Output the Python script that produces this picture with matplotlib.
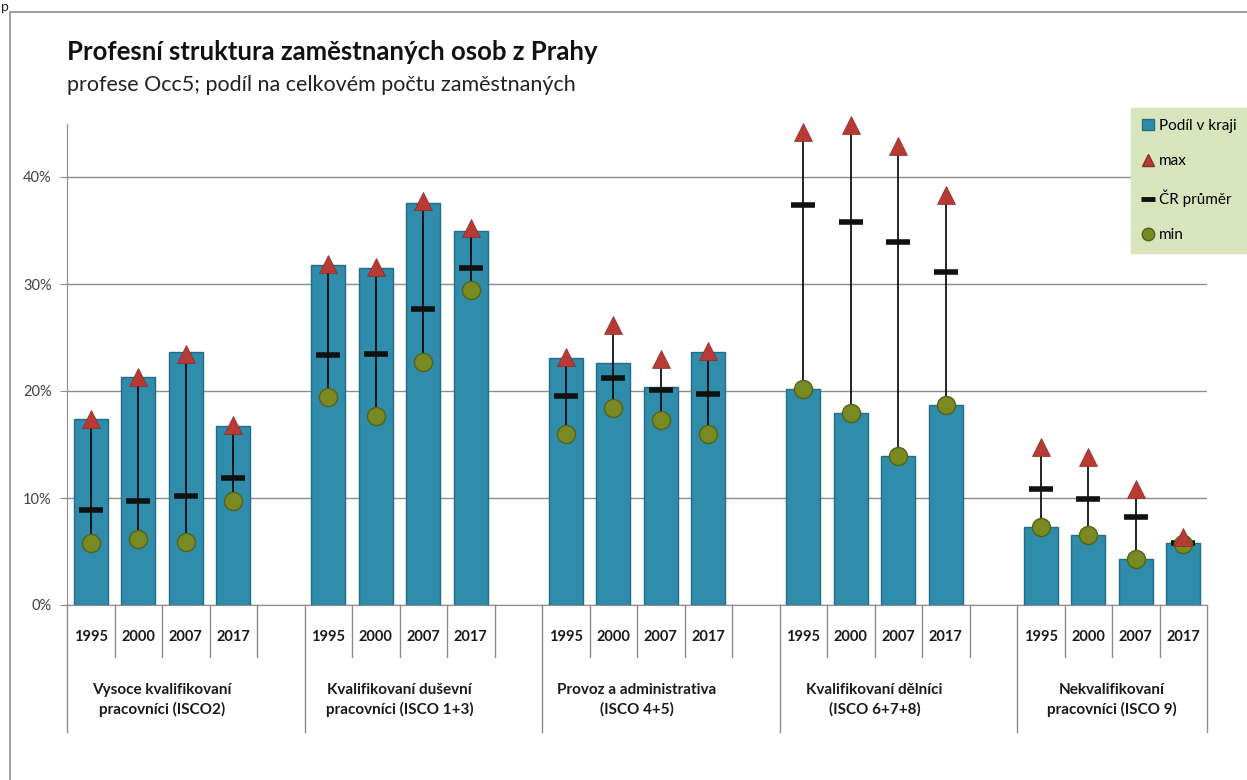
import numpy as np
import matplotlib.pyplot as plt
import matplotlib.transforms as mtransforms
from matplotlib.lines import Line2D
from matplotlib.patches import Patch, Rectangle
from matplotlib.ticker import PercentFormatter

plt.rcParams['font.family'] = ['Lato', 'DejaVu Sans']

years = ['1995', '2000', '2007', '2017']
groups = ['Vysoce kvalifikovaní\npracovníci (ISCO2)',
          'Kvalifikovaní duševní\npracovníci (ISCO 1+3)',
          'Provoz a administrativa\n(ISCO 4+5)',
          'Kvalifikovaní dělníci\n(ISCO 6+7+8)',
          'Nekvalifikovaní\npracovníci (ISCO 9)']

# podíl v kraji (Praha), %
podil = [[17.4, 21.3, 23.6, 16.7],
         [31.8, 31.5, 37.6, 35.0],
         [23.1, 22.6, 20.4, 23.6],
         [20.2, 17.9, 13.9, 18.7],
         [7.3, 6.5, 4.3, 5.8]]
# max mezi kraji
maxv = [[17.4, 21.3, 23.5, 16.8],
        [31.9, 31.6, 37.8, 35.2],
        [23.2, 26.2, 23.0, 23.7],
        [44.2, 44.9, 42.9, 38.3],
        [14.8, 13.8, 10.8, 6.4]]
# ČR průměr
prumer = [[8.9, 9.75, 10.2, 11.9],
          [23.4, 23.5, 27.7, 31.5],
          [19.5, 21.2, 20.1, 19.7],
          [37.4, 35.8, 33.9, 31.1],
          [10.8, 9.9, 8.2, 5.8]]
# min mezi kraji
minv = [[5.8, 6.2, 5.9, 9.75],
        [19.4, 17.7, 22.7, 29.4],
        [16.0, 18.4, 17.3, 16.0],
        [20.2, 17.9, 13.9, 18.7],
        [7.3, 6.5, 4.3, 5.7]]

pos = np.array([g * 5 + j for g in range(len(groups)) for j in range(len(years))])
podil = np.array(podil).ravel() / 100
maxv = np.array(maxv).ravel() / 100
prumer = np.array(prumer).ravel() / 100
minv = np.array(minv).ravel() / 100

bar_col = '#2F8DAB'
max_col = '#B83A35'
min_col = '#7A8A22'

fig = plt.figure(figsize=(12.47, 7.80), dpi=100)
W, H = 1247, 780
ax = fig.add_axes([67 / W, 1 - 605 / H, (1207 - 67) / W, (605 - 123.5) / H])

# outer frame of the chart
fig.patches.append(Rectangle((10 / W, -0.1), 1.2, 1 - 12 / H + 0.1, transform=fig.transFigure,
                             fill=False, edgecolor='#8C8C8C', lw=1.2))
fig.text(0.001, 0.999, 'p', fontsize=10, va='top', ha='left', color='#222222')

ax.bar(pos, podil, width=0.72, color=bar_col, edgecolor='#236C84', lw=1, zorder=2)
ax.vlines(pos, minv, maxv, color='black', lw=1.2, zorder=3)
ax.plot(pos, prumer, ls='none', marker='_', ms=17, mew=4, color='#111111', zorder=4)
ax.plot(pos, minv, ls='none', marker='o', ms=13, mfc=min_col, mec='#56621A', mew=1, zorder=5,
        clip_on=False)
ax.plot(pos, maxv, ls='none', marker='^', ms=13, mfc=max_col, mec='#8E2A26', mew=0.5, zorder=6,
        clip_on=False)

ax.set_xlim(-0.5, 23.5)
ax.set_ylim(0, 0.45)
ax.set_yticks([0, 0.1, 0.2, 0.3, 0.4])
ax.yaxis.set_major_formatter(PercentFormatter(1.0, decimals=0))
ax.tick_params(axis='y', length=5, color='#8C8C8C', labelsize=10.5, labelcolor='#404040', pad=6)
ax.set_xticks([])
ax.yaxis.grid(True, color='#8C8C8C', lw=1)
ax.set_axisbelow(True)
for s in ['top', 'right']:
    ax.spines[s].set_visible(False)
ax.spines['left'].set_color('#8C8C8C')
ax.spines['bottom'].set_color('#8C8C8C')

# category axis (years + groups)
tr = mtransforms.blended_transform_factory(ax.transData, ax.transAxes)
yr_bot = -(657 - 605) / 481.5
grp_bot = -(732 - 605) / 481.5
for g in range(len(groups)):
    n_short = 4 if g < len(groups) - 1 else 3
    for j in range(1, n_short + 1):
        ax.plot([g * 5 + j - 0.5] * 2, [0, yr_bot], transform=tr, color='#8C8C8C', lw=1, clip_on=False)
    ax.plot([g * 5 - 0.5] * 2, [0, grp_bot], transform=tr, color='#8C8C8C', lw=1, clip_on=False)
    ax.text(g * 5 + 1.5, -(700 - 605) / 481.5, groups[g], transform=tr, ha='center', va='center',
            fontsize=11, fontweight='bold', color='#1A1A1A', linespacing=1.45)
ax.plot([23.5] * 2, [0, grp_bot], transform=tr, color='#8C8C8C', lw=1, clip_on=False)
for p, yl in zip(pos, [y for g in groups for y in years]):
    ax.text(p, -(637 - 605) / 481.5, yl, transform=tr, ha='center', va='center',
            fontsize=10.5, fontweight='bold', color='#1A1A1A')

fig.text(67 / W, 1 - 52 / H, 'Profesní struktura zaměstnaných osob z Prahy', fontsize=18.5,
         fontweight='bold', color='#111111', va='center')
fig.text(67 / W, 1 - 85 / H, 'profese Occ5; podíl na celkovém počtu zaměstnaných', fontsize=15.5,
         color='#222222', va='center')

handles = [Patch(facecolor=bar_col, edgecolor='#236C84'),
           Line2D([], [], ls='none', marker='^', ms=9, mfc=max_col, mec='#8E2A26'),
           Line2D([], [], ls='none', marker='_', ms=10, mew=3.5, color='#111111'),
           Line2D([], [], ls='none', marker='o', ms=9, mfc=min_col, mec='#56621A')]
labels = ['Podíl v kraji', 'max', 'ČR průměr', 'min']
leg = fig.legend(handles, labels, loc='upper right', bbox_to_anchor=(1.0, 1 - 108 / H),
                 frameon=True, fancybox=False, facecolor='#D8E4BC', edgecolor='#D8E4BC',
                 fontsize=11, labelspacing=1.4, handlelength=0.8, handletextpad=0.3,
                 borderpad=0.7, borderaxespad=0)
leg.get_frame().set_alpha(1)

fig.savefig('out.png', dpi=100)
